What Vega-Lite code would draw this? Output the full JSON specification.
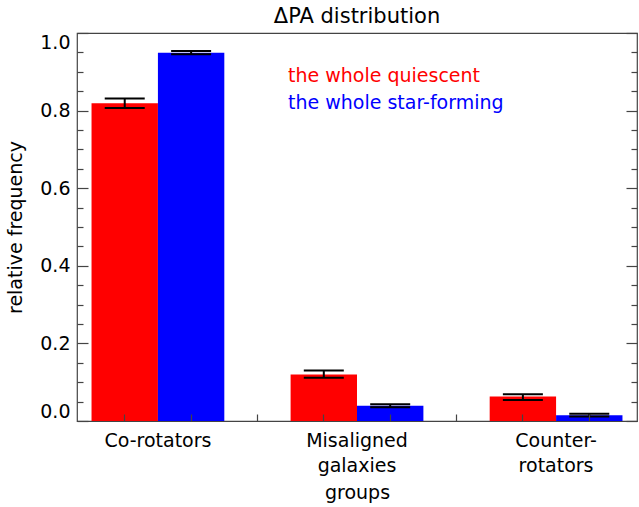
{
  "$schema": "https://vega.github.io/schema/vega-lite/v6.json",
  "width": 560,
  "height": 388,
  "autosize": {"type": "none"},
  "padding": {"left": 77, "top": 33, "right": 2, "bottom": 86},
  "title": {"text": "ΔPA distribution", "fontSize": 21, "fontWeight": "normal", "font": "DejaVu Sans", "color": "black", "offset": 5},
  "data": {"values": [
    {"group": "Co-rotators", "series": "the whole quiescent", "value": 0.819, "lo": 0.807, "hi": 0.831},
    {"group": "Co-rotators", "series": "the whole star-forming", "value": 0.949, "lo": 0.945, "hi": 0.9535},
    {"group": "Misaligned galaxies", "series": "the whole quiescent", "value": 0.12, "lo": 0.1115, "hi": 0.13},
    {"group": "Misaligned galaxies", "series": "the whole star-forming", "value": 0.039, "lo": 0.0356, "hi": 0.0434},
    {"group": "Counter-rotators", "series": "the whole quiescent", "value": 0.063, "lo": 0.054, "hi": 0.069},
    {"group": "Counter-rotators", "series": "the whole star-forming", "value": 0.015, "lo": 0.0116, "hi": 0.019}
  ]},
  "layer": [
    {
      "mark": {"type": "bar"},
      "encoding": {
        "x": {"field": "group", "type": "nominal", "sort": ["Co-rotators", "Misaligned galaxies", "Counter-rotators"], "scale": {"paddingInner": 0.333, "paddingOuter": 0.073},
          "axis": {"orient": "bottom", "title": "groups", "ticks": false, "labelAngle": 0, "labelPadding": 10, "labelLineHeight": 25, "labelBaseline": "top",
            "labelExpr": "datum.value == 'Misaligned galaxies' ? ['Misaligned', 'galaxies'] : datum.value == 'Counter-rotators' ? ['Counter-', 'rotators'] : datum.value", "titlePadding": 8}},
        "xOffset": {"field": "series", "type": "nominal", "sort": ["the whole quiescent", "the whole star-forming"], "scale": {"paddingInner": 0, "paddingOuter": 0}},
        "y": {"field": "value", "type": "quantitative", "scale": {"domain": [0, 1], "nice": false},
          "axis": {"orient": "left", "values": [0, 0.2, 0.4, 0.6, 0.8, 1.0], "format": ".1f", "tickSize": -11, "labelPadding": 18, "labelFlush": true, "title": "relative frequency", "titlePadding": 14, "zindex": 1}},
        "color": {"field": "series", "type": "nominal", "scale": {"domain": ["the whole quiescent", "the whole star-forming"], "range": ["#ff0000", "#0000ff"]},
          "legend": {"orient": "none", "legendX": 192, "legendY": 33, "title": null, "symbolSize": 0, "symbolOpacity": 0, "symbolStrokeWidth": 0, "labelOffset": 0, "rowPadding": 7, "labelFontSize": 19, "labelFont": "DejaVu Sans", "labelLimit": 400,
            "labelColor": {"expr": "datum.label == 'the whole quiescent' ? '#ff0000' : '#0000ff'"}}}
      }
    },
    {
      "mark": {"type": "rule", "color": "black", "strokeWidth": 2, "opacity": 1},
      "encoding": {
        "x": {"field": "group", "type": "nominal", "sort": ["Co-rotators", "Misaligned galaxies", "Counter-rotators"], "scale": {"paddingInner": 0.333, "paddingOuter": 0.073},
          "axis": {"orient": "bottom", "title": null, "labels": false, "tickSize": -7, "bandPosition": 0.25, "zindex": 1}},
        "xOffset": {"field": "series", "type": "nominal", "sort": ["the whole quiescent", "the whole star-forming"], "scale": {"paddingInner": 0, "paddingOuter": 0}},
        "y": {"field": "lo", "type": "quantitative", "scale": {"domain": [0, 1], "nice": false},
          "axis": {"orient": "right", "values": [0, 0.2, 0.4, 0.6, 0.8, 1.0], "labels": false, "tickSize": -11, "title": null, "zindex": 1}},
        "y2": {"field": "hi"}
      }
    },
    {
      "mark": {"type": "tick", "color": "black", "size": 40, "thickness": 2, "orient": "horizontal", "opacity": 1},
      "encoding": {
        "x": {"field": "group", "type": "nominal", "sort": ["Co-rotators", "Misaligned galaxies", "Counter-rotators"], "scale": {"paddingInner": 0.333, "paddingOuter": 0.073},
          "axis": {"orient": "bottom", "title": null, "labels": false, "tickSize": -7, "bandPosition": 0.75, "zindex": 1}},
        "xOffset": {"field": "series", "type": "nominal", "sort": ["the whole quiescent", "the whole star-forming"], "scale": {"paddingInner": 0, "paddingOuter": 0}},
        "y": {"field": "lo", "type": "quantitative", "scale": {"domain": [0, 1], "nice": false},
          "axis": {"orient": "left", "values": [0.05, 0.1, 0.15, 0.25, 0.3, 0.35, 0.45, 0.5, 0.55, 0.65, 0.7, 0.75, 0.85, 0.9, 0.95], "labels": false, "tickSize": -6, "title": null, "zindex": 1}}
      }
    },
    {
      "mark": {"type": "tick", "color": "black", "size": 40, "thickness": 2, "orient": "horizontal", "opacity": 1},
      "encoding": {
        "x": {"field": "group", "type": "nominal", "sort": ["Co-rotators", "Misaligned galaxies", "Counter-rotators"], "scale": {"paddingInner": 0.333, "paddingOuter": 0.073},
          "axis": {"orient": "bottom", "title": null, "labels": false, "tickSize": -7, "bandPosition": -0.25, "values": ["Misaligned galaxies", "Counter-rotators"], "zindex": 1}},
        "xOffset": {"field": "series", "type": "nominal", "sort": ["the whole quiescent", "the whole star-forming"], "scale": {"paddingInner": 0, "paddingOuter": 0}},
        "y": {"field": "hi", "type": "quantitative", "scale": {"domain": [0, 1], "nice": false},
          "axis": {"orient": "right", "values": [0.05, 0.1, 0.15, 0.25, 0.3, 0.35, 0.45, 0.5, 0.55, 0.65, 0.7, 0.75, 0.85, 0.9, 0.95], "labels": false, "tickSize": -6, "title": null, "zindex": 1}}
      }
    }
  ],
  "resolve": {"axis": {"x": "independent", "y": "independent"}},
  "config": {
    "font": "DejaVu Sans",
    "view": {"stroke": "#444444", "strokeWidth": 1.2},
    "axis": {"domain": false, "grid": false, "tickColor": "#444444", "tickWidth": 1.2, "labelFont": "DejaVu Sans", "labelFontSize": 19, "labelColor": "black", "titleFont": "DejaVu Sans", "titleFontSize": 19, "titleFontWeight": "normal", "titleColor": "black"}
  }
}
